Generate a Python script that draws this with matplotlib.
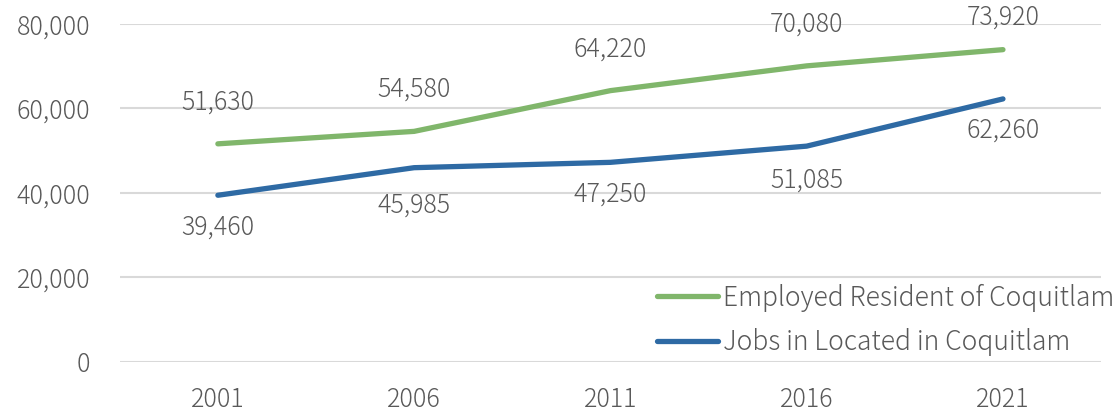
import matplotlib.pyplot as plt
from matplotlib.ticker import FuncFormatter

plt.rcParams['font.family'] = ['Noto Sans CJK JP', 'DejaVu Sans']

years = ["2001", "2006", "2011", "2016", "2021"]
residents = [51630, 54580, 64220, 70080, 73920]
jobs = [39460, 45985, 47250, 51085, 62260]
# label offsets in points: residents above the line, jobs below
res_offsets = [30, 30, 30, 30, 23]
job_offsets = [-23, -27, -23, -25, -23]

green = "#80B66B"
blue = "#2E6AA4"
grey = "#595959"
fs = 18

fig = plt.figure(figsize=(11.19, 4.13), dpi=100)
ax = fig.add_axes([0.107, 0.1235, 0.877, 0.8185])

x = range(len(years))
ax.plot(x, residents, color=green, lw=3.8, solid_capstyle="round",
        label="Employed Resident of Coquitlam")
ax.plot(x, jobs, color=blue, lw=3.8, solid_capstyle="round",
        label="Jobs in Located in Coquitlam")

for i, v in enumerate(residents):
    ax.annotate(f"{v:,}", (i, v), xytext=(0, res_offsets[i]), textcoords="offset points",
                ha="center", va="center", fontsize=fs, color=grey, fontweight="light")
for i, v in enumerate(jobs):
    ax.annotate(f"{v:,}", (i, v), xytext=(0, job_offsets[i]), textcoords="offset points",
                ha="center", va="center", fontsize=fs, color=grey, fontweight="light")

ax.set_xlim(-0.5, len(years) - 0.5)
ax.set_ylim(0, 80000)
ax.set_yticks([0, 20000, 40000, 60000, 80000])
ax.yaxis.set_major_formatter(FuncFormatter(lambda v, p: f"{int(v):,}"))
ax.set_xticks(list(x))
ax.set_xticklabels(years)
ax.tick_params(length=0, labelsize=fs, labelcolor=grey)
ax.tick_params(axis="y", pad=21)
ax.tick_params(axis="x", pad=18)
for lab in ax.get_xticklabels() + ax.get_yticklabels():
    lab.set_fontweight("light")
ax.grid(axis="y", color="#D9D9D9", lw=1.5)
ax.set_axisbelow(True)
for s in ax.spines.values():
    s.set_visible(False)

leg = fig.legend(loc="lower right", bbox_to_anchor=(0.996, 0.138), frameon=False,
                 labelcolor=grey, handlelength=2.3, handletextpad=0.2,
                 labelspacing=0.62, borderpad=0, borderaxespad=0,
                 prop={"size": 19, "weight": "light"})

fig.savefig("out.png", dpi=100)
